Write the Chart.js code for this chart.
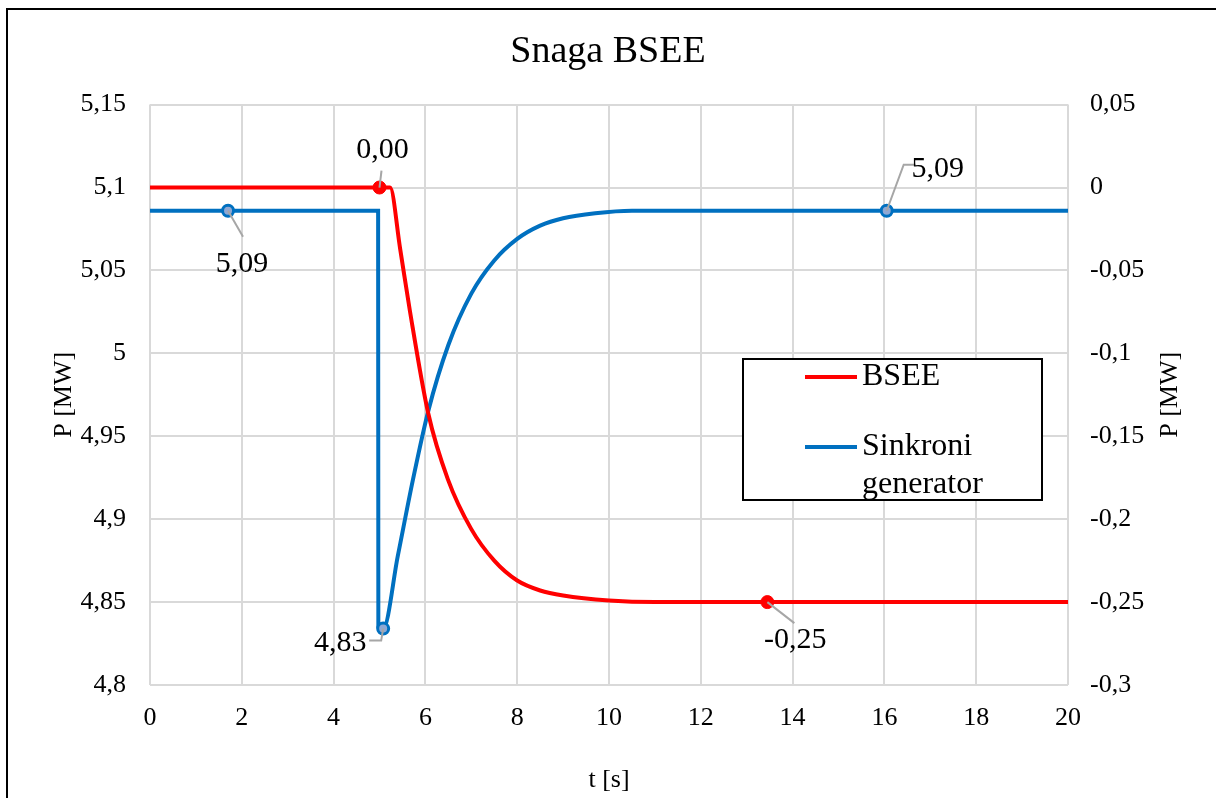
<!DOCTYPE html>
<html>
<head>
<meta charset="utf-8">
<script src="https://cdn.jsdelivr.net/npm/chart.js@4"></script>
<style>
  body { margin: 0; background: #fff; }
  #wrap { width: 1216px; height: 798px; }
</style>
</head>
<body>
<div id="wrap"><canvas id="snagaChart"></canvas></div>
<script>
// vrijeme [s] i snaga BSEE (desna os, MW)
const bseeT = [0, 5.0, 5.23, 5.45, 5.66, 6.06, 6.49, 7.0, 7.5, 8.0, 8.5, 9.0, 10, 11, 13.45, 20];
const bseeP = [0, 0, 0, -0.037, -0.074, -0.136, -0.176, -0.206, -0.225, -0.237, -0.243, -0.246, -0.249, -0.25, -0.25, -0.25];
// sinkroni generator (lijeva os, MW)
const genT = [0, 1.7, 4.97, 4.975, 5.08, 5.4, 5.73, 6.06, 6.5, 7.0, 7.5, 8.0, 8.5, 9.0, 9.7, 10.5, 16.05, 20];
const genP = [5.086, 5.086, 5.086, 4.835, 4.834, 4.878, 4.924, 4.965, 5.005, 5.036, 5.056, 5.069, 5.077, 5.0815, 5.0845, 5.086, 5.086, 5.086];

const seriesNames = ['BSEE', 'Sinkroni generator'];
const bseeLabelIdx = [1, 14];
const genLabelIdx = [1, 4, 16];

const FONT = "'Liberation Serif', 'DejaVu Serif', serif";

// oznake osi kao Excel "General": 5,1 / 5 / -0,05
function fmtTick(v) {
    return String(Number(v.toFixed(2))).replace('.', ',');
}
// natpisi podataka s dvije decimale: 0,00 / 5,09
function fmtLabel(v) {
    return v.toFixed(2).replace('.', ',');
}

// položaj natpisa u odnosu na točku: [dx, dy] teksta i lomne točke linije
const labelLayout = {
    0: { 1: { text: [3, -37], lead: [[2, -17]] }, 14: { text: [28, 38], lead: [[27, 21]] } },
    1: {
        1: { text: [14, 53], lead: [[15, 26]] },
        4: { text: [-43, 15], lead: [[-2, 12], [-14, 12]] },
        16: { text: [51, -42], lead: [[17, -46], [29, -46]] }
    }
};

const decorPlugin = {
    id: 'decor',
    beforeDraw(chart) {
        const ctx = chart.ctx;
        ctx.save();
        ctx.fillStyle = '#fff';
        ctx.fillRect(0, 0, chart.width, chart.height);
        ctx.strokeStyle = '#000';
        ctx.lineWidth = 2;
        ctx.strokeRect(7, 9, 1400, 1000);
        ctx.restore();
    },
    afterDatasetsDraw(chart) {
        const ctx = chart.ctx;
        ctx.save();
        chart.data.datasets.forEach((ds, di) => {
            const meta = chart.getDatasetMeta(di);
            const lay = labelLayout[di];
            Object.keys(lay).forEach(k => {
                const i = Number(k);
                const pt = meta.data[i];
                const cfg = lay[i];
                ctx.strokeStyle = '#a6a6a6';
                ctx.lineWidth = 2;
                ctx.beginPath();
                ctx.moveTo(pt.x, pt.y);
                cfg.lead.forEach(p => ctx.lineTo(pt.x + p[0], pt.y + p[1]));
                ctx.stroke();
                ctx.fillStyle = '#000';
                ctx.font = '30px ' + FONT;
                ctx.textAlign = 'center';
                ctx.textBaseline = 'middle';
                ctx.fillText(fmtLabel(ds.data[i].y), pt.x + cfg.text[0], pt.y + cfg.text[1]);
            });
        });
        ctx.restore();
    },
    afterDraw(chart) {
        const ctx = chart.ctx;
        const area = chart.chartArea;
        ctx.save();
        // naslov desne osi (čita se odozdo prema gore)
        ctx.translate(1170, (area.top + area.bottom) / 2);
        ctx.rotate(-Math.PI / 2);
        ctx.font = '26px ' + FONT;
        ctx.fillStyle = '#000';
        ctx.textAlign = 'center';
        ctx.textBaseline = 'middle';
        ctx.fillText('P [MW]', 0, 0);
        ctx.restore();

        // legenda
        const bx = 743, by = 359, bw = 299, bh = 141;
        ctx.save();
        ctx.fillStyle = '#fff';
        ctx.fillRect(bx, by, bw, bh);
        ctx.strokeStyle = '#000';
        ctx.lineWidth = 2;
        ctx.strokeRect(bx, by, bw, bh);
        ctx.font = '32px ' + FONT;
        ctx.textBaseline = 'middle';
        ctx.textAlign = 'left';
        const rowY = [377, 447];
        chart.data.datasets.forEach((ds, di) => {
            const y = rowY[di];
            ctx.strokeStyle = ds.borderColor;
            ctx.lineWidth = 4;
            ctx.beginPath();
            ctx.moveTo(805, y);
            ctx.lineTo(857, y);
            ctx.stroke();
            ctx.fillStyle = '#000';
            const words = ds.label.split(' ');
            const lines = [];
            let cur = '';
            words.forEach(w => {
                const t = cur ? cur + ' ' + w : w;
                if (ctx.measureText(t).width > 170 && cur) { lines.push(cur); cur = w; }
                else cur = t;
            });
            lines.push(cur);
            lines.forEach((l, li) => ctx.fillText(l, 862, y + li * 38));
        });
        ctx.restore();
    }
};

function radii(n, idx, r) {
    return Array.from({ length: n }, (_, i) => idx.includes(i) ? r : 0);
}

const ctx = document.getElementById('snagaChart').getContext('2d');
const chart = new Chart(ctx, {
    type: 'line',
    data: {
        datasets: [{
            label: seriesNames[0],
            data: bseeT.map((t, i) => ({ x: t, y: bseeP[i] })),
            yAxisID: 'y1',
            borderColor: '#ff0000',
            backgroundColor: '#ff0000',
            borderWidth: 4,
            pointRadius: radii(bseeT.length, bseeLabelIdx, 6.5),
            pointBackgroundColor: '#ff0000',
            pointBorderColor: '#ff0000',
            pointBorderWidth: 1,
            cubicInterpolationMode: 'monotone',
            fill: false
        }, {
            label: seriesNames[1],
            data: genT.map((t, i) => ({ x: t, y: genP[i] })),
            yAxisID: 'y',
            borderColor: '#0070c0',
            backgroundColor: '#0070c0',
            borderWidth: 4,
            pointRadius: radii(genT.length, genLabelIdx, 5.5),
            pointBackgroundColor: '#8fa8d4',
            pointBorderColor: '#0070c0',
            pointBorderWidth: 3,
            cubicInterpolationMode: 'monotone',
            fill: false
        }]
    },
    options: {
        responsive: true,
        maintainAspectRatio: false,
        animation: false,
        layout: { padding: 0 },
        plugins: {
            legend: { display: false },
            tooltip: { enabled: false },
            title: {
                display: true,
                text: 'Snaga BSEE',
                color: '#000',
                font: { family: FONT, size: 38, weight: 'normal' },
                padding: { top: 29, bottom: 30 }
            }
        },
        scales: {
            x: {
                type: 'linear',
                min: 0,
                max: 20,
                ticks: { stepSize: 2, color: '#000', font: { family: FONT, size: 26 }, padding: 18 },
                grid: { color: '#d9d9d9', lineWidth: 2, drawTicks: false, tickLength: 0 },
                border: { display: false },
                title: { display: true, text: 't [s]', color: '#000', font: { family: FONT, size: 26 }, padding: { top: 0, bottom: 2 } },
                afterFit(s) { s.height = 113; }
            },
            y: {
                position: 'left',
                min: 4.8,
                max: 5.15,
                ticks: { stepSize: 0.05, color: '#000', font: { family: FONT, size: 26 }, padding: 24, callback: v => fmtTick(v) },
                grid: { color: '#d9d9d9', lineWidth: 2, drawTicks: false, tickLength: 0 },
                border: { display: false },
                title: { display: true, text: 'P [MW]', color: '#000', font: { family: FONT, size: 26 }, padding: { top: 49, bottom: 0 } },
                afterFit(s) { s.width = 150; }
            },
            y1: {
                position: 'right',
                min: -0.3,
                max: 0.05,
                ticks: { stepSize: 0.05, color: '#000', font: { family: FONT, size: 26 }, padding: 22, callback: v => fmtTick(v) },
                grid: { display: false, drawTicks: false, tickLength: 0 },
                border: { display: false },
                afterFit(s) { s.width = 148; }
            }
        }
    },
    plugins: [decorPlugin]
});
</script>
</body>
</html>
